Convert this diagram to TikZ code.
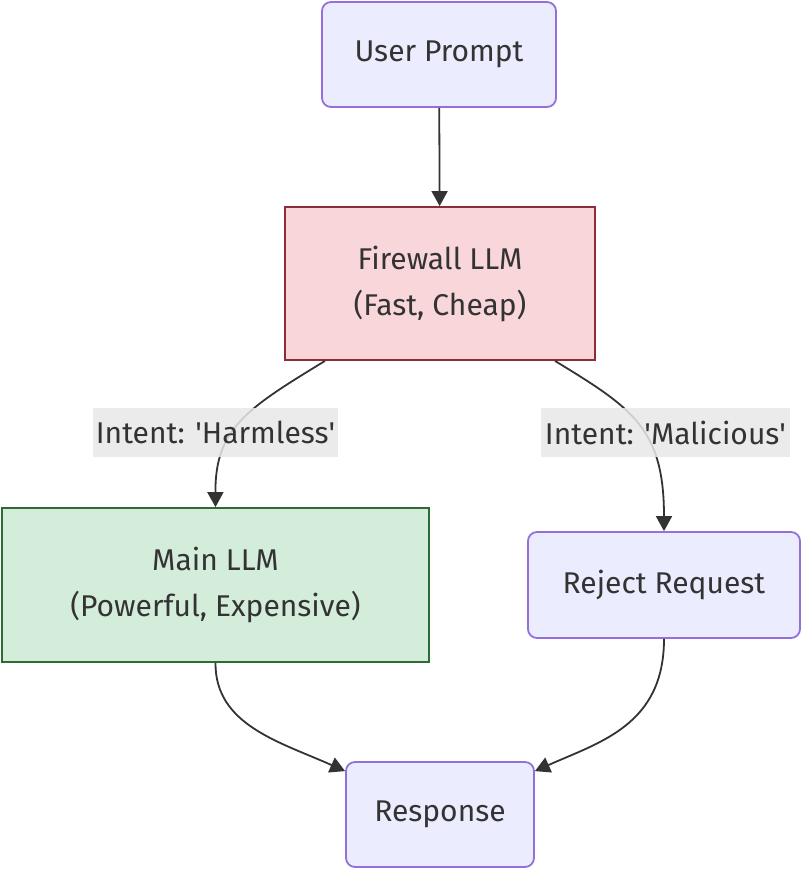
\documentclass[tikz,border=0pt]{standalone}
\usepackage{fontspec}
\setmainfont{Fira Sans}
\usetikzlibrary{arrows.meta}
\definecolor{lav}{HTML}{ECECFF}
\definecolor{lavd}{HTML}{9370DB}
\definecolor{pinkf}{HTML}{F8D6DA}
\definecolor{pinkd}{HTML}{8B2E3A}
\definecolor{greenf}{HTML}{D4EDDA}
\definecolor{greend}{HTML}{2E6B34}
\definecolor{txt}{HTML}{333333}
\definecolor{lblbg}{HTML}{E8E8E8}
\tikzset{
  every node/.style={font=\fontsize{30}{46}\selectfont, text=txt, align=center},
  roundbox/.style={draw=lavd, fill=lav, line width=1.8pt, rounded corners=9pt, inner sep=0pt},
  fwbox/.style={draw=pinkd, fill=pinkf, line width=1.8pt, inner sep=0pt},
  mainbox/.style={draw=greend, fill=greenf, line width=1.8pt, inner sep=0pt},
  lbl/.style={fill=lblbg, fill opacity=0.85, text opacity=1, inner sep=0pt},
  conn/.style={draw=txt, line width=1.8pt, -{Triangle[length=15pt,width=16pt]}},
}
\begin{document}
\begin{tikzpicture}[x=1pt,y=-1pt]
\useasboundingbox (0,0) rectangle (802,870);
\node[roundbox, minimum width=234pt, minimum height=105pt] (user) at (439,54.5) {User Prompt};
\node[fwbox, minimum width=310pt, minimum height=153pt] (fw) at (440,283.5) {Firewall LLM\\(Fast, Cheap)};
\node[mainbox, minimum width=427pt, minimum height=154pt] (main) at (215.5,585) {Main LLM\\(Powerful, Expensive)};
\node[roundbox, minimum width=272pt, minimum height=106pt] (rej) at (664,585) {Reject Request};
\node[roundbox, minimum width=188pt, minimum height=105pt] (resp) at (440,814.5) {Response};

\draw[conn] (user) -- (fw);
\draw[conn] ([xshift=-115pt]fw.south) .. controls (248,408) and (215,428) .. (main.north);
\draw[conn] ([xshift=115pt]fw.south) .. controls (632,408) and (664,428) .. (rej.north);
\draw[conn] (main.south) .. controls (215,725) and (280,742) .. ([yshift=-10pt]resp.north west);
\draw[conn] (rej.south) .. controls (664,725) and (600,742) .. ([yshift=-10pt]resp.north east);

\node[lbl, minimum width=245pt, minimum height=49pt] (l1) at (215.5,432.5) {Intent: \textquotesingle Harmless\textquotesingle};
\node[lbl, minimum width=249pt, minimum height=49pt] (l2) at (665.5,432.5) {Intent: \textquotesingle Malicious\textquotesingle};
\end{tikzpicture}
\end{document}
